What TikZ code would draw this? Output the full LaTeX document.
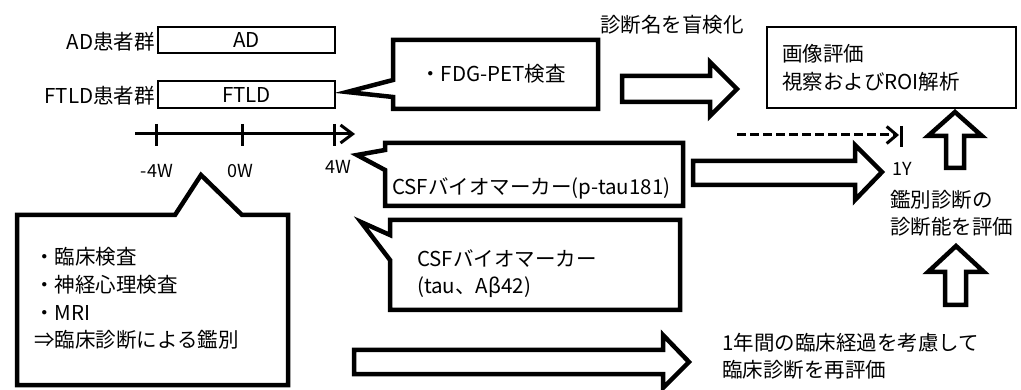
\documentclass[tikz,border=0pt]{standalone}
\usepackage{fontspec}
\setmainfont{Noto Sans CJK JP}
\usetikzlibrary{arrows.meta}
\begin{document}
\begin{tikzpicture}[x=1pt,y=-1pt,
  txt/.style={font=\fontsize{20.5}{27}\selectfont, inner sep=0pt, align=left},
  small/.style={font=\fontsize{18}{22}\selectfont, inner sep=0pt},
  grpbox/.style={draw, line width=2.5pt, inner sep=0pt, font=\fontsize{20.5}{24}\selectfont},
  callout/.style={draw, line width=4.5pt, line join=miter, miter limit=20},
  blockarrow/.style={draw, line width=4.5pt, line join=miter, miter limit=10, fill=white},
  axis/.style={line width=3pt},
]
\useasboundingbox (0,0) rectangle (1021,390);

% group boxes
\node[grpbox, minimum width=177pt, minimum height=26pt] (adbox) at (246.5,40) {AD};
\node[grpbox, minimum width=177pt, minimum height=27pt] (ftldbox) at (246.5,94.5) {FTLD};
\node[txt, anchor=east] (adlbl) at (155,42) {AD患者群};
\node[txt, anchor=east] (ftldlbl) at (155,96) {FTLD患者群};

% timeline
\coordinate (ta) at (135,134);
\coordinate (tb) at (355,134);
\draw[axis, -{Straight Barb[length=12pt,width=18pt]}] (ta) -- (tb);
\draw[axis] (156,124) -- (156,146);
\draw[axis] (242,124) -- (242,146);
\draw[axis] (334,124) -- (334,146);
\node[small] (m4) at (157,171) {-4W};
\node[small] (m0) at (240,171) {0W};
\node[small] (p4) at (338,167) {4W};

% FDG-PET callout
\draw[callout] (393,40) -- (598,40) -- (598,109) -- (393,109) -- (393,97) -- (347,92) -- (393,80) -- cycle;
\node[txt] (fdg) at (493,74) {・FDG-PET検査};

% arrow to image evaluation
\draw[blockarrow] (622,76) -- (710,76) -- (710,62) -- (737,89) -- (710,116) -- (710,102) -- (622,102) -- cycle;
\node[txt] (blind) at (672,25) {診断名を盲検化};

% image evaluation box
\node[draw, line width=2.7pt, minimum width=249pt, minimum height=81pt, text width=219pt, inner sep=0pt, align=left, font=\fontsize{20.5}{28}\selectfont] (img) at (891.5,67.5) {画像評価\\視察およびROI解析};

% dashed timeline to 1Y
\coordinate (da) at (737,135);
\coordinate (db) at (899,135);
\draw[line width=3pt, dash pattern=on 9pt off 4pt, -{Straight Barb[length=10pt,width=17pt]}] (da) -- (db);
\draw[axis] (901,126) -- (901,147);
\node[small] (oney) at (902,169) {1Y};

% up arrows
\draw[blockarrow] (946,168) -- (946,136) -- (928,136) -- (955,112) -- (982,136) -- (964,136) -- (964,168) -- cycle;
\draw[blockarrow] (945,305) -- (945,272) -- (928,272) -- (956,246) -- (984,272) -- (966,272) -- (966,305) -- cycle;
\node[txt, anchor=west] (eval) at (890,213.5) {鑑別診断の\\診断能を評価};

% CSF p-tau181 callout
\draw[callout] (385,143) -- (683,143) -- (683,206) -- (385,206) -- (385,170) -- (357,155) -- (385,150) -- cycle;
\node[txt, anchor=west] (ptau) at (392,188) {CSFバイオマーカー(p-tau181)};
\draw[blockarrow] (693,161) -- (855,161) -- (855,145) -- (882,172) -- (855,200) -- (855,185) -- (693,185) -- cycle;

% CSF tau callout
\draw[callout] (390,220) -- (680,220) -- (680,310) -- (390,310) -- (390,260) -- (361,222) -- (390,235) -- cycle;
\node[txt, anchor=west] (tau) at (417,273.5) {CSFバイオマーカー\\(tau、Aβ42)};

% clinical callout
\draw[callout] (17,215) -- (175,215) -- (201,175) -- (242,215) -- (288,215) -- (288,385) -- (17,385) -- cycle;
\node[txt, anchor=west, font=\fontsize{20.5}{27.7}\selectfont] (clin) at (34,298.5) {・臨床検査\\・神経心理検査\\・MRI\\⇒臨床診断による鑑別};

% bottom arrow
\draw[blockarrow] (354,350) -- (663,350) -- (663,335) -- (689,362) -- (663,388) -- (663,374) -- (354,374) -- cycle;
\node[txt, anchor=west] (reeval) at (722,356) {1年間の臨床経過を考慮して\\臨床診断を再評価};
\end{tikzpicture}
\end{document}
